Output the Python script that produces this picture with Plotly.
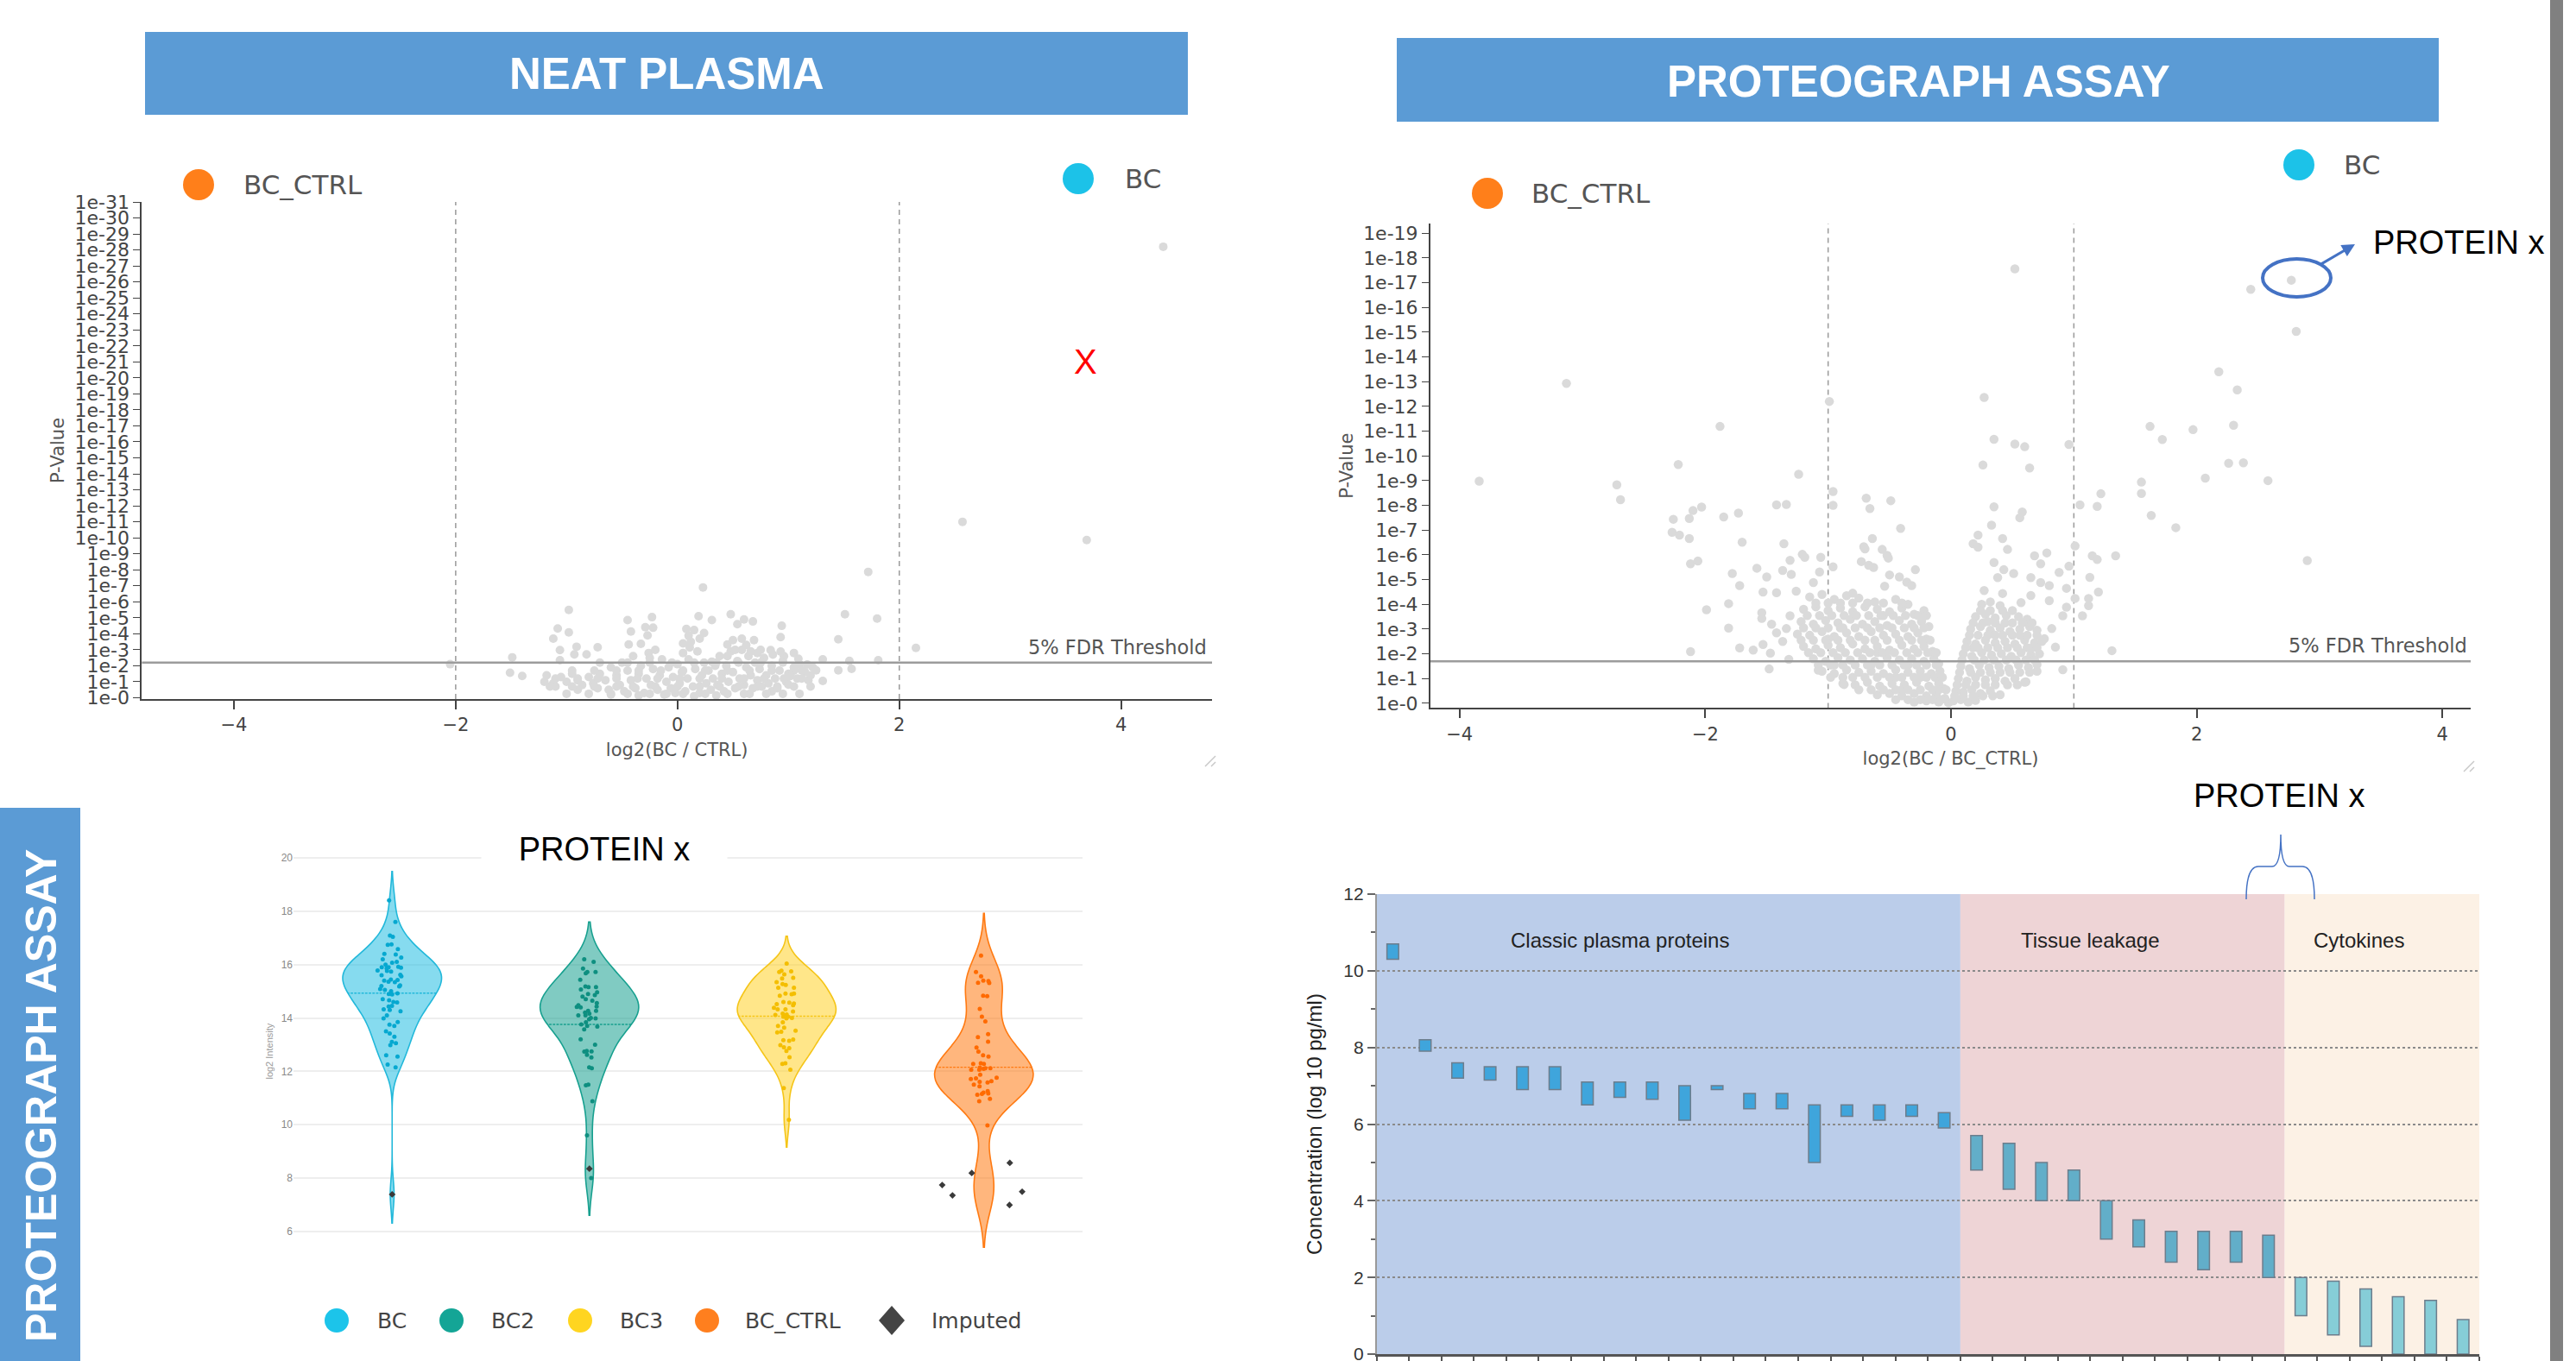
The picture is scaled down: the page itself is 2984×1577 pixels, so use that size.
import plotly.graph_objects as go

W, H = 2984, 1577

# ======================= DATA =======================
# --- NEAT PLASMA volcano: log2 fold change / -log10(p) ---
neat_fc_out = [4.38, 2.57, 3.69, 1.72, 0.23, -0.98, 1.51, 1.80, 2.15, 1.45,
               0.94, 0.93, 1.31, 1.55, 1.81, 1.45, 1.57, 1.31, -2.05, -1.49,
               -1.51, -1.40, -1.08, -1.12, -0.98, -1.06, -0.91, -0.93, -0.82, -0.72,
               -1.06, -0.45, -0.42, -0.23, -0.29, -0.22, -0.44, -0.33, 0.19, 0.31,
               0.10, 0.15, 0.24, 0.48, 0.54, 0.60, 0.68, 0.45, 0.50, 0.58,
               0.69, 0.11, 0.31, 0.72, 0.84, 0.93, 1.05, 1.09, 1.17, 1.25,
               1.12, 1.02, 1.00]
neat_nlp_out = [28.2, 11.0, 9.86, 7.87, 6.9, 5.49, 5.22, 4.95, 3.12, 3.66,
                4.5, 3.79, 2.4, 2.31, 2.35, 1.72, 1.81, 1.05, 2.1, 2.53,
                1.57, 1.36, 4.33, 3.7, 4.09, 2.98, 3.19, 2.71, 2.71, 3.16,
                2.35, 4.86, 4.14, 5.04, 4.41, 4.38, 3.33, 3.37, 5.1, 4.86,
                3.88, 4.23, 4.05, 5.22, 4.6, 4.9, 4.77, 3.33, 3.6, 3.7,
                3.6, 3.15, 2.26, 2.8, 2.98, 2.89, 2.8, 2.44, 2.08, 1.72,
                1.72, 1.36, 0.82]
neat_fc_core = [-1.20, -1.18, -1.12, -1.05, -1.00, -0.95, -0.90, -0.86, -0.80, -0.76,
                -0.72, -0.70, -0.65, -0.62, -0.60, -0.55, -0.52, -0.50, -0.48, -0.45,
                -0.42, -0.40, -0.38, -0.35, -0.33, -0.30, -0.28, -0.26, -0.24, -0.22,
                -0.20, -0.18, -0.16, -0.14, -0.12, -0.10, -0.08, -0.06, -0.04, -0.02,
                0.00, 0.02, 0.04, 0.05, 0.07, 0.09, 0.10, 0.12, 0.14, 0.16,
                0.18, 0.20, 0.22, 0.24, 0.26, 0.28, 0.30, 0.32, 0.34, 0.36,
                0.38, 0.40, 0.42, 0.44, 0.46, 0.48, 0.50, 0.52, 0.54, 0.56,
                0.58, 0.60, 0.62, 0.64, 0.66, 0.68, 0.70, 0.72, 0.74, 0.76,
                0.78, 0.80, 0.82, 0.85, 0.88, 0.90, 0.92, 0.95, 0.98, 1.00,
                1.05, 1.08, 1.10, 1.15, 1.18, 1.22, -0.90, -0.60, -0.35, 0.15,
                0.35, 0.60, 0.85, -1.10, 1.20, -0.27, -0.25, 0.05, 0.08, 0.20,
                0.45, 0.52, 0.62, 0.66, 0.75, 0.86, 0.96,
                -1.00, -0.80, -0.60, -0.45, -0.25, -0.10, 0.05, 0.25, 0.45, 0.65, 0.80, 0.95, 1.10,
                -1.15, -0.95, -0.75, -0.55, -0.40, -0.20, 0.00, 0.20, 0.38, 0.55, 0.72, 0.90, 1.05, 1.20,
                -1.10, -0.90, -0.72, -0.55, -0.36, -0.18, 0.02, 0.20, 0.40, 0.60, 0.78, 0.96, 1.12,
                -0.95, -0.75, -0.55, -0.35, -0.15, 0.05, 0.25, 0.45, 0.65, 0.85, 1.05,
                -0.70, -0.45, -0.25, -0.05, 0.15, 0.35, 0.55, 0.75, 0.95]
neat_nlp_core = [1.0, 1.4, 0.9, 1.3, 1.0, 1.5, 1.1, 0.8, 1.3, 0.9,
                 0.6, 1.5, 1.1, 0.5, 1.9, 1.4, 0.8, 2.2, 0.4, 1.7,
                 1.1, 2.6, 0.6, 1.5, 2.0, 0.3, 1.2, 2.8, 0.8, 1.8,
                 3.0, 0.5, 1.4, 2.4, 0.2, 1.0, 1.9, 0.6, 1.3, 0.3,
                 2.1, 0.9, 1.6, 2.8, 0.4, 1.2, 2.4, 3.5, 0.7, 1.8,
                 2.9, 0.3, 1.4, 2.2, 0.9, 1.7, 0.5, 1.2, 2.0, 0.8,
                 2.6, 1.5, 0.4, 2.0, 1.0, 2.9, 1.6, 0.6, 2.3, 1.2,
                 3.0, 0.8, 1.9, 2.6, 1.4, 0.6, 2.2, 1.1, 1.8, 0.7,
                 2.5, 1.4, 0.9, 2.0, 1.2, 0.6, 1.7, 2.3, 1.0, 1.5,
                 1.9, 1.2, 2.1, 1.6, 1.1, 1.9, 0.5, 0.2, 0.15, 0.1,
                 0.15, 0.25, 0.4, 0.7, 1.4, 3.9, 2.5, 3.4, 4.3, 3.7,
                 2.6, 3.0, 3.3, 2.9, 3.0, 2.7, 2.6,
                 0.25, 0.25, 0.25, 0.25, 0.25, 0.25, 0.25, 0.25, 0.25, 0.25, 0.25, 0.25, 0.25,
                 0.7, 0.7, 0.7, 0.7, 0.7, 0.7, 0.7, 0.7, 0.7, 0.7, 0.7, 0.7, 0.7, 0.7,
                 1.2, 1.2, 1.2, 1.2, 1.2, 1.2, 1.2, 1.2, 1.2, 1.2, 1.2, 1.2, 1.2,
                 1.7, 1.7, 1.7, 1.7, 1.7, 1.7, 1.7, 1.7, 1.7, 1.7, 1.7,
                 2.2, 2.2, 2.2, 2.2, 2.2, 2.2, 2.2, 2.2, 2.2]
neat_fdr = 2.2
neat_fc_cut = 2.0
neat_x_mark = (3.68, 21.0)

# --- PROTEOGRAPH volcano ---
pg_fc_out = [0.52, 2.44, 2.77, 2.81, 2.18, 2.33, -3.13, -0.99, 0.27, -3.84,
             2.30, 1.97, 1.72, 2.26, 2.38, 2.07, 2.58, 2.90, 1.83,
             -1.88, -2.22, -2.72, -2.69, -1.24, -0.96, -0.96, -1.42, -1.34, -2.03,
             -2.10, -2.13, -2.26, -2.27, -2.21, -2.13, -1.85, -1.73, -1.70, -2.12,
             -2.06, -1.36, -1.21, -1.19, -1.06, -1.31, -1.37, -1.30, -1.58, -1.50,
             -1.78, -1.72, -1.53, -1.42, -1.26, -1.12, -1.07, -0.96, -1.99, -1.81,
             -1.81, -2.12, -1.72, -1.61, -1.53, -1.47, -1.32, -1.48, -1.54, -1.54,
             -1.46, -1.42, -1.37, -1.34, -1.31, -1.08, -0.87, -0.70, -0.66, -0.69,
             -0.49, -0.41, -0.64, -0.71, -0.73, -0.67, -0.63, -0.56, -0.52, -0.51,
             -0.50, -0.42, -0.36, -0.29, -0.32, -0.54, -0.80, -0.23,
             0.35, 0.52, 0.60, 0.96, 0.26, 0.64, 0.35, 0.58, 0.56, 0.33,
             0.42, 0.46, 0.22, 0.18, 0.22, 0.35, 0.43, 0.38, 0.51, 0.27,
             0.42, 0.68, 0.78, 0.73, 0.65, 0.73, 0.80, 0.88, 0.96, 0.94,
             1.01, 1.05, 1.19, 1.22, 1.15, 1.19, 1.34, 1.13, 1.20, 1.12,
             1.01, 1.12, 1.07, 1.31, 0.91, 0.61, 0.57, 0.65, 0.80, 0.91,
             0.94, 0.82, 0.85, 0.76, 0.70, 1.55, 1.55, 1.63, 1.62]
pg_nlp_out = [17.56, 16.73, 17.1, 15.03, 13.4, 12.67, 12.93, 12.2, 12.36, 8.98,
              11.24, 11.06, 10.66, 9.7, 9.72, 9.1, 9.0, 5.77, 7.1,
              11.19, 9.65, 8.83, 8.23, 9.26, 8.56, 8.0, 8.02, 8.04, 7.93,
              7.79, 7.47, 7.44, 6.91, 6.8, 6.66, 7.53, 7.69, 6.51, 5.64,
              5.75, 6.45, 6.02, 5.9, 5.9, 5.78, 5.37, 5.21, 5.46, 5.11,
              5.25, 4.76, 4.5, 4.47, 4.53, 4.88, 5.31, 5.52, 3.78, 4.03,
              3.04, 2.09, 2.24, 2.15, 2.38, 2.03, 1.78, 1.39, 3.66, 3.43,
              3.2, 2.85, 2.5, 3.02, 3.54, 1.34, 0.76, 6.24, 7.87, 8.29,
              8.19, 7.07, 6.66, 6.33, 5.73, 5.58, 5.49, 6.22, 5.98, 5.87,
              5.19, 5.11, 4.9, 5.4, 4.76, 4.73, 4.45, 3.49,
              10.67, 10.48, 10.37, 10.46, 9.63, 9.51, 7.94, 7.73, 7.5, 7.2,
              6.66, 6.22, 6.8, 6.45, 6.31, 5.69, 5.4, 5.08, 5.25, 4.56,
              4.44, 5.96, 6.08, 5.64, 5.08, 4.88, 4.76, 5.29, 5.54, 4.65,
              6.36, 8.02, 7.96, 8.47, 5.96, 5.81, 5.96, 5.09, 4.5, 4.24,
              4.24, 3.95, 3.54, 2.13, 1.36, 0.87, 4.07, 4.36, 4.15, 3.54,
              3.89, 3.02, 2.27, 2.61, 1.57, 8.94, 8.48, 7.59, 11.19]
pg_fc_core = [-1.15, -1.05, -0.95, -0.85, -0.75, -0.62, -0.45, -0.35,
              -1.20, -1.10, -1.00, -0.90, -0.80, -0.70, -0.60, -0.50, -0.40, -0.30, -0.22,
              -1.22, -1.12, -1.02, -0.92, -0.82, -0.72, -0.62, -0.52, -0.42, -0.32, -0.24, -0.18,
              -1.25, -1.15, -1.05, -0.95, -0.85, -0.75, -0.65, -0.55, -0.45, -0.35, -0.27, -0.20,
              -1.20, -1.10, -1.00, -0.90, -0.80, -0.70, -0.60, -0.50, -0.40, -0.30, -0.22, -0.15,
              -1.12, -1.02, -0.92, -0.82, -0.72, -0.62, -0.52, -0.42, -0.32, -0.22, -0.14, -0.10,
              -1.05, -0.95, -0.85, -0.75, -0.65, -0.55, -0.45, -0.35, -0.25, -0.16, -0.09,
              -0.88, -0.78, -0.68, -0.58, -0.48, -0.38, -0.28, -0.18, -0.10, -0.06,
              -0.60, -0.50, -0.40, -0.30, -0.20, -0.12, -0.05,
              -0.30, -0.20, -0.10, -0.02,
              -1.00, -0.90, -0.70, -0.55, -0.78, -0.60, -0.35, -0.65, -0.95, -0.45, -0.25, -0.80, -0.40, -0.15,
              -1.10, -1.00, -0.90, -0.80, -0.68, -0.55, -0.40,
              -1.17, -1.07, -0.97, -0.87, -0.77, -0.67, -0.57, -0.47, -0.37, -0.27, -0.20,
              -1.20, -1.10, -1.00, -0.88, -0.68, -0.58, -0.48, -0.38, -0.30, -0.22,
              -1.22, -1.12, -1.02, -0.92, -0.82, -0.62, -0.52, -0.42, -0.32, -0.24, -0.17,
              -1.16, -1.06, -0.96, -0.86, -0.76, -0.66, -0.56, -0.46, -0.36, -0.27, -0.19, -0.12,
              -1.08, -0.98, -0.88, -0.78, -0.68, -0.58, -0.48, -0.38, -0.28, -0.20, -0.12,
              -0.98, -0.88, -0.70, -0.60, -0.50, -0.40, -0.30, -0.20, -0.13, -0.07,
              -0.75, -0.65, -0.55, -0.45, -0.35, -0.25, -0.10, -0.04,
              -0.45, -0.35, -0.25, -0.15, -0.08,
              0.25, 0.32, 0.40,
              0.20, 0.28, 0.36, 0.45, 0.55, 0.62,
              0.16, 0.24, 0.32, 0.40, 0.48, 0.56, 0.64, 0.70,
              0.13, 0.20, 0.28, 0.36, 0.44, 0.52, 0.60, 0.68, 0.74,
              0.10, 0.17, 0.25, 0.33, 0.41, 0.49, 0.57, 0.65, 0.72,
              0.08, 0.15, 0.23, 0.31, 0.39, 0.47, 0.55, 0.63, 0.70,
              0.06, 0.13, 0.20, 0.28, 0.36, 0.44, 0.52, 0.60,
              0.04, 0.10, 0.17, 0.24, 0.32, 0.40,
              0.02, 0.08, 0.14, 0.20,
              0.30, 0.50, 0.22, 0.42, 0.62, 0.18, 0.46, 0.66,
              0.24, 0.32, 0.42, 0.50,
              0.18, 0.26, 0.36, 0.44, 0.58, 0.66,
              0.15, 0.30, 0.36, 0.50, 0.56, 0.70,
              0.12, 0.22, 0.30, 0.38, 0.54, 0.62, 0.70,
              0.09, 0.19, 0.27, 0.35, 0.45, 0.53, 0.61, 0.68,
              0.07, 0.16, 0.24, 0.32, 0.40, 0.48, 0.56, 0.64,
              0.05, 0.12, 0.20, 0.28, 0.36, 0.46, 0.54,
              0.03, 0.10, 0.18, 0.26, 0.34]
pg_nlp_core = [4.30, 4.40, 4.20, 4.35, 4.25, 4.10, 4.20, 4.00,
               3.80, 3.90, 3.75, 3.85, 3.70, 3.90, 3.80, 3.70, 3.85, 3.60, 3.75,
               3.30, 3.20, 3.35, 3.25, 3.40, 3.20, 3.30, 3.15, 3.35, 3.20, 3.30, 3.10,
               2.80, 2.75, 2.90, 2.70, 2.85, 2.70, 2.90, 2.75, 2.80, 2.70, 2.85, 2.60,
               2.30, 2.20, 2.35, 2.25, 2.40, 2.20, 2.30, 2.15, 2.35, 2.20, 2.30, 2.10,
               1.80, 1.70, 1.85, 1.75, 1.80, 1.70, 1.85, 1.75, 1.80, 1.70, 1.80, 1.60,
               1.30, 1.20, 1.35, 1.25, 1.30, 1.20, 1.35, 1.25, 1.30, 1.20, 1.30,
               0.80, 0.75, 0.85, 0.70, 0.80, 0.75, 0.85, 0.70, 0.80, 0.60,
               0.35, 0.40, 0.30, 0.40, 0.30, 0.35, 0.20,
               0.05, 0.10, 0.05, 0.02,
               2.60, 3.05, 2.55, 3.55, 3.05, 2.05, 1.55, 1.55, 1.55, 1.05, 1.05, 1.05, 0.55, 0.55,
               4.05, 4.05, 4.05, 4.05, 4.05, 4.05, 4.05,
               3.55, 3.55, 3.55, 3.55, 3.55, 3.55, 3.55, 3.55, 3.55, 3.55, 3.55,
               3.05, 3.05, 3.05, 3.05, 3.05, 3.05, 3.05, 3.05, 3.05, 3.05,
               2.55, 2.55, 2.55, 2.55, 2.55, 2.55, 2.55, 2.55, 2.55, 2.55, 2.55,
               2.05, 2.05, 2.05, 2.05, 2.05, 2.05, 2.05, 2.05, 2.05, 2.05, 2.05, 2.05,
               1.55, 1.55, 1.55, 1.55, 1.55, 1.55, 1.55, 1.55, 1.55, 1.55, 1.55,
               1.05, 1.05, 1.05, 1.05, 1.05, 1.05, 1.05, 1.05, 1.05, 1.05,
               0.55, 0.55, 0.55, 0.55, 0.55, 0.55, 0.55, 0.55,
               0.15, 0.15, 0.15, 0.15, 0.15,
               4.00, 4.10, 3.95,
               3.50, 3.60, 3.45, 3.55, 3.50, 3.40,
               3.00, 3.10, 2.95, 3.05, 2.90, 3.00, 3.10, 2.95,
               2.50, 2.40, 2.55, 2.45, 2.50, 2.40, 2.55, 2.45, 2.50,
               2.00, 1.90, 2.05, 1.95, 2.00, 1.90, 2.05, 1.95, 2.00,
               1.50, 1.40, 1.55, 1.45, 1.50, 1.40, 1.55, 1.45, 1.30,
               1.00, 0.90, 1.05, 0.95, 1.00, 0.90, 1.00, 0.85,
               0.50, 0.45, 0.55, 0.40, 0.50, 0.35,
               0.10, 0.15, 0.05, 0.12,
               3.30, 3.25, 2.75, 2.75, 2.75, 2.25, 2.25, 2.25,
               3.75, 3.75, 3.75, 3.75,
               3.25, 3.25, 3.25, 3.25, 3.25, 3.25,
               2.75, 2.75, 2.75, 2.75, 2.75, 2.75,
               2.25, 2.25, 2.25, 2.25, 2.25, 2.25, 2.25,
               1.75, 1.75, 1.75, 1.75, 1.75, 1.75, 1.75, 1.75,
               1.25, 1.25, 1.25, 1.25, 1.25, 1.25, 1.25, 1.25,
               0.75, 0.75, 0.75, 0.75, 0.75, 0.75, 0.75,
               0.30, 0.30, 0.30, 0.30, 0.30]
pg_fdr = 1.7
pg_fc_cut = 1.0

assert len(neat_fc_out) == len(neat_nlp_out)
assert len(neat_fc_core) == len(neat_nlp_core)
assert len(pg_fc_out) == len(pg_nlp_out)
assert len(pg_fc_core) == len(pg_nlp_core)

# --- PROTEIN x violins (log2 intensity) ---
groups = ['BC', 'BC2', 'BC3', 'BC_CTRL']
bc_vals = [18.41, 17.6, 17.09, 17.04, 16.76, 16.74, 16.58, 16.4, 16.38, 16.26,
           16.2, 16.1, 16.07, 16.0, 15.9, 15.9, 15.92, 15.88, 15.86, 15.76,
           15.74, 15.78, 15.6, 15.62, 15.56, 15.4, 15.42, 15.44, 15.36, 15.34,
           15.2, 15.22, 15.18, 15.05, 15.0, 15.08, 14.9, 14.88, 14.92, 14.7,
           14.66, 14.6, 14.58, 14.45, 14.43, 14.3, 14.25, 14.32, 14.1, 13.98,
           13.85, 13.75, 13.7, 13.5, 13.42, 13.3, 13.1, 13.05, 12.98, 12.6,
           12.55, 12.25, 12.15]
bc2_vals = [16.2, 16.1, 15.85, 15.72, 15.72, 15.67, 15.43, 15.18, 15.16, 15.16,
            15.07, 14.96, 14.9, 14.86, 14.8, 14.7, 14.65, 14.56, 14.48, 14.43,
            14.41, 14.4, 14.27, 14.27, 14.2, 14.16, 14.1, 14.1, 14.0, 13.98,
            13.95, 13.84, 13.76, 13.7, 13.68, 13.57, 13.2, 13.0, 12.76, 12.75,
            12.74, 12.62, 12.52, 12.15, 12.12, 11.5, 11.48, 10.88, 9.6, 8.0]
bc3_vals = [16.04, 15.77, 15.75, 15.72, 15.63, 15.5, 15.48, 15.34, 15.27, 15.24,
            15.13, 15.13, 14.91, 14.91, 14.89, 14.83, 14.6, 14.57, 14.54, 14.52,
            14.48, 14.38, 14.32, 14.32, 14.24, 14.16, 14.13, 14.11, 14.05, 14.05,
            14.0, 13.98, 13.84, 13.7, 13.64, 13.52, 13.48, 13.46, 13.19, 13.17,
            13.14, 12.98, 12.9, 12.87, 12.76, 12.53, 12.3, 12.28, 12.06, 11.37,
            10.18]
ctrl_vals = [16.34, 15.72, 15.56, 15.4, 15.38, 15.32, 15.31, 14.83, 14.82, 14.34,
             14.05, 13.87, 13.39, 13.28, 13.11, 12.89, 12.74, 12.6, 12.55, 12.3,
             12.28, 12.28, 12.14, 12.12, 12.12, 12.09, 12.06, 12.06, 11.87, 11.76,
             11.74, 11.71, 11.63, 11.61, 11.58, 11.5, 11.44, 11.26, 11.2, 11.17,
             11.15, 11.12, 10.97, 10.88, 9.97]
bc_imputed = [7.39]
bc2_imputed = [8.35]
bc3_imputed = []
ctrl_imputed = [8.57, 8.19, 7.74, 7.49, 7.35, 6.99]
violin_ticks = [6, 8, 10, 12, 14, 16, 18, 20]

# --- Plasma protein concentration ranges (log10 pg/ml) ---
bar_low = [10.3, 7.9, 7.2, 7.15, 6.9, 6.9, 6.5, 6.7, 6.65, 6.1,
           6.9, 6.4, 6.4, 5.0, 6.2, 6.1, 6.2, 5.9,
           4.8, 4.3, 4.0, 4.0, 3.0, 2.8, 2.4, 2.2, 2.4, 2.0,
           1.0, 0.5, 0.2, 0.0, 0.0, 0.0]
bar_high = [10.7, 8.2, 7.6, 7.5, 7.5, 7.5, 7.1, 7.1, 7.1, 7.0,
            7.0, 6.8, 6.8, 6.5, 6.5, 6.5, 6.5, 6.3,
            5.7, 5.5, 5.0, 4.8, 4.0, 3.5, 3.2, 3.2, 3.2, 3.1,
            2.0, 1.9, 1.7, 1.5, 1.4, 0.9]
region_names = ['Classic plasma proteins', 'Tissue leakage', 'Cytokines']
region_counts = [18, 10, 6]
conc_ticks = [0, 2, 4, 6, 8, 10, 12]

# ======================= STYLE =======================
def fx(px):
    return px / W


def fy(py):
    return 1 - py / H


SANS = 'Liberation Sans, Arial, sans-serif'
DEJ = 'DejaVu Sans, Verdana, sans-serif'
BANNER = '#5B9BD5'
PT_GRAY = '#dadada'
ORANGE = '#FF7F1A'
CYAN = '#1CC2E8'

vio_style = {
    'BC': dict(line='#22B8DA', fill='rgba(34,190,225,0.55)', pt='#06A8D0', bw=0.54, leg='#1CC4EA'),
    'BC2': dict(line='#17A08F', fill='rgba(23,160,143,0.55)', pt='#0E8F80', bw=0.70, leg='#14A596'),
    'BC3': dict(line='#F5C518', fill='rgba(255,210,40,0.55)', pt='#F4BE00', bw=0.51, leg='#FFD520'),
    'BC_CTRL': dict(line='#FF7A12', fill='rgba(255,122,18,0.55)', pt='#FF6A00', bw=0.79, leg='#FF7F1E'),
}
vals_by_group = {'BC': bc_vals, 'BC2': bc2_vals, 'BC3': bc3_vals, 'BC_CTRL': ctrl_vals}
imp_by_group = {'BC': bc_imputed, 'BC2': bc2_imputed, 'BC3': bc3_imputed, 'BC_CTRL': ctrl_imputed}

fig = go.Figure()

# ---- volcano traces ----
fig.add_trace(go.Scatter(x=neat_fc_core + neat_fc_out, y=neat_nlp_core + neat_nlp_out,
                         mode='markers', marker=dict(size=10, color=PT_GRAY),
                         xaxis='x', yaxis='y', hoverinfo='skip', showlegend=False))
fig.add_trace(go.Scatter(x=pg_fc_core + pg_fc_out, y=pg_nlp_core + pg_nlp_out,
                         mode='markers', marker=dict(size=10.5, color=PT_GRAY),
                         xaxis='x2', yaxis='y2', hoverinfo='skip', showlegend=False))

# ---- violins ----
for g in groups:
    s = vio_style[g]
    allv = vals_by_group[g] + imp_by_group[g]
    fig.add_trace(go.Violin(x=[g] * len(allv), y=allv, xaxis='x3', yaxis='y3', name=g,
                            line=dict(color=s['line'], width=1.6), fillcolor=s['fill'],
                            points=False, meanline=dict(visible=True, color=s['line'], width=1.4),
                            bandwidth=s['bw'], width=0.5, scalemode='width', spanmode='soft',
                            showlegend=False, hoverinfo='skip'))
for g in groups:
    s = vio_style[g]
    v = vals_by_group[g]
    fig.add_trace(go.Violin(x=[g] * len(v), y=v, xaxis='x3', yaxis='y3', name=g + ' pts',
                            line=dict(color='rgba(0,0,0,0)', width=0), fillcolor='rgba(0,0,0,0)',
                            points='all', pointpos=0, jitter=0.3,
                            marker=dict(size=5, color=s['pt']), width=0.5,
                            bandwidth=s['bw'], showlegend=False, hoverinfo='skip'))
for g in groups:
    iv = imp_by_group[g]
    if not iv:
        continue
    fig.add_trace(go.Violin(x=[g] * len(iv), y=iv, xaxis='x3', yaxis='y3', name='Imputed',
                            line=dict(color='rgba(0,0,0,0)', width=0), fillcolor='rgba(0,0,0,0)',
                            points='all', pointpos=0, jitter=(1.0 if len(iv) > 1 else 0), bandwidth=0.5,
                            marker=dict(size=6, color='#3a3a3a', symbol='diamond'), width=0.5,
                            showlegend=False, hoverinfo='skip'))

# ---- concentration ranges ----
n_bars = len(bar_low)
bar_pos = list(range(n_bars))
region_bar_colors = ['#3FA5DC', '#62AEC9', '#86CDD7']
bar_colors = []
for c, cnt in zip(region_bar_colors, region_counts):
    bar_colors += [c] * cnt
fig.add_trace(go.Bar(x=bar_pos, y=[h - l for h, l in zip(bar_high, bar_low)], base=bar_low,
                     width=0.36, marker=dict(color=bar_colors, line=dict(color='#6d7d8c', width=1.5)),
                     xaxis='x4', yaxis='y4', showlegend=False, hoverinfo='skip'))

# ======================= SHAPES =======================
shapes = []
shapes.append(dict(type='rect', xref='paper', yref='paper', x0=fx(168), x1=fx(1376), y0=fy(133), y1=fy(37),
                   fillcolor=BANNER, line=dict(width=0)))
shapes.append(dict(type='rect', xref='paper', yref='paper', x0=fx(1618), x1=fx(2825), y0=fy(141), y1=fy(44),
                   fillcolor=BANNER, line=dict(width=0)))
shapes.append(dict(type='rect', xref='paper', yref='paper', x0=0, x1=fx(93), y0=0, y1=fy(936),
                   fillcolor=BANNER, line=dict(width=0)))
shapes.append(dict(type='rect', xref='paper', yref='paper', x0=fx(2954), x1=fx(2969), y0=0, y1=1,
                   fillcolor='#808080', line=dict(width=0)))
for xr, yr, cut, fdr in [('x', 'y', neat_fc_cut, neat_fdr), ('x2', 'y2', pg_fc_cut, pg_fdr)]:
    for sgn in (-1, 1):
        shapes.append(dict(type='line', xref=xr, yref=yr + ' domain', x0=sgn * cut, x1=sgn * cut, y0=0, y1=1,
                           line=dict(color='#9a9a9a', width=1.5, dash='6px,5px'), layer='below'))
    shapes.append(dict(type='line', xref=xr + ' domain', yref=yr, x0=0, x1=1, y0=fdr, y1=fdr,
                       line=dict(color='#9c9c9c', width=2.5)))
for cx, cy in [(1408, 880), (2866, 886)]:
    shapes.append(dict(type='line', xref='paper', yref='paper', x0=fx(cx - 12), y0=fy(cy + 8), x1=fx(cx), y1=fy(cy - 4),
                       line=dict(color='#c8c8c8', width=1.5)))
    shapes.append(dict(type='line', xref='paper', yref='paper', x0=fx(cx - 5), y0=fy(cy + 8), x1=fx(cx), y1=fy(cy + 3),
                       line=dict(color='#c8c8c8', width=1.5)))
for cx, cy, col in [(230, 214, ORANGE), (1249, 207, CYAN), (1723, 224, ORANGE), (2663, 191, CYAN)]:
    shapes.append(dict(type='circle', xref='paper', yref='paper', xsizemode='pixel', ysizemode='pixel',
                       xanchor=fx(cx), yanchor=fy(cy), x0=-18, x1=18, y0=-18, y1=18,
                       fillcolor=col, line=dict(width=0)))
for cx, g in zip([390, 523, 672, 819], groups):
    shapes.append(dict(type='circle', xref='paper', yref='paper', xsizemode='pixel', ysizemode='pixel',
                       xanchor=fx(cx), yanchor=fy(1530), x0=-14, x1=14, y0=-14, y1=14,
                       fillcolor=vio_style[g]['leg'], line=dict(width=0)))
dx, dy = 1033, 1530
shapes.append(dict(type='path', xref='paper', yref='paper',
                   path='M {} {} L {} {} L {} {} L {} {} Z'.format(fx(dx), fy(dy - 17), fx(dx + 15), fy(dy),
                                                                 fx(dx), fy(dy + 17), fx(dx - 15), fy(dy)),
                   fillcolor='#444444', line=dict(width=0)))
shapes.append(dict(type='circle', xref='paper', yref='paper', x0=fx(2621), x1=fx(2700), y0=fy(344), y1=fy(300),
                   line=dict(color='#4472C4', width=4)))
start = -0.5
for col, cnt in zip(['#BBCDEA', '#EED4D6', '#FCF1E5'], region_counts):
    shapes.append(dict(type='rect', xref='x4', yref='y4', x0=start, x1=start + cnt, y0=0, y1=max(conc_ticks),
                       fillcolor=col, line=dict(width=0), layer='below'))
    start += cnt
bx0, bxm, bx1, by_top, by_mid, by_bot = 2602, 2642, 2681, 967, 1004, 1042
brace = ('M {a} {b} Q {a} {c} {d} {c} L {e} {c} Q {m} {c} {m} {t} Q {m} {c} {f} {c} L {g} {c} Q {h} {c} {h} {b}'
         .format(a=fx(bx0), b=fy(by_bot), c=fy(by_mid), d=fx(bx0 + 14), e=fx(bxm - 10), m=fx(bxm), t=fy(by_top),
                 f=fx(bxm + 10), g=fx(bx1 - 14), h=fx(bx1)))
shapes.append(dict(type='path', xref='paper', yref='paper', path=brace, line=dict(color='#4472C4', width=1.5)))


# ======================= ANNOTATIONS =======================
def ann(text, x, y, size, color='#000', family=SANS, xanchor='center', yanchor='middle', **kw):
    return dict(text=text, x=fx(x), y=fy(y), xref='paper', yref='paper', showarrow=False,
                font=dict(size=size, color=color, family=family), xanchor=xanchor, yanchor=yanchor, **kw)


annotations = [
    ann('<b>NEAT PLASMA</b>', 772, 86, 51, 'white'),
    ann('<b>PROTEOGRAPH ASSAY</b>', 2222, 94, 51, 'white'),
    ann('<b>PROTEOGRAPH ASSAY</b>', 48, 1270, 50, 'white', textangle=-90),
    ann('BC_CTRL', 280, 214, 31, '#555', DEJ, xanchor='left'),
    ann('BC', 1301, 207, 31, '#555', DEJ, xanchor='left'),
    ann('BC_CTRL', 1772, 224, 31, '#555', DEJ, xanchor='left'),
    ann('BC', 2713, 191, 31, '#555', DEJ, xanchor='left'),
    ann('PROTEIN x', 2848, 281, 38, '#000'),
    ann('PROTEIN x', 700, 984, 38, '#000', bgcolor='white', width=282),
    ann('PROTEIN x', 2640, 922, 38, '#000'),
    dict(text='X', x=neat_x_mark[0], y=neat_x_mark[1], xref='x', yref='y', showarrow=False,
         font=dict(size=40, color='#FF0000', family=SANS)),
    dict(text='5% FDR Threshold', x=1, y=neat_fdr, xref='x domain', yref='y', xanchor='right', yanchor='bottom',
         xshift=-4, yshift=3, showarrow=False, font=dict(size=22.5, color='#555', family=DEJ)),
    dict(text='5% FDR Threshold', x=1, y=pg_fdr, xref='x2 domain', yref='y2', xanchor='right', yanchor='bottom',
         xshift=-2, yshift=3, showarrow=False, font=dict(size=22.5, color='#555', family=DEJ)),
    dict(text='', x=fx(2728), y=fy(283), xref='paper', yref='paper', showarrow=True, ax=-41, ay=24,
         arrowhead=2, arrowsize=1, arrowwidth=3, arrowcolor='#4472C4'),
]
for tx, g in zip([435, 567, 716, 861], groups):
    annotations.append(ann(g, tx, 1530, 25, '#444', DEJ, xanchor='left'))
annotations.append(ann('Imputed', 1077, 1530, 25, '#444', DEJ, xanchor='left'))
start = -0.5
for name, cnt, off in zip(region_names, region_counts, [7.5, 4.0, 2.3]):
    annotations.append(dict(text=name, x=start + off, y=10.8, xref='x4', yref='y4', showarrow=False,
                            font=dict(size=24, color='#222', family=SANS)))
    start += cnt

# ======================= LAYOUT =======================
tickfont_v = dict(family=DEJ, size=22, color='#444')
common_vx = dict(showline=True, linecolor='#444', linewidth=2, ticks='outside', ticklen=10, tickwidth=1.5,
                 tickcolor='#444', showgrid=False, zeroline=False, tickfont=dict(family=DEJ, size=21, color='#444'),
                 tickvals=[-4, -2, 0, 2, 4], automargin=False)
neat_yt = list(range(0, 32))
pg_yt = list(range(0, 20))
ttl = dict(family=DEJ, size=21, color='#555')

fig.update_layout(
    width=W, height=H, margin=dict(l=0, r=0, t=0, b=0, autoexpand=False), autosize=False,
    paper_bgcolor='white', plot_bgcolor='white', showlegend=False, violinmode='overlay',
    xaxis=dict(domain=[fx(164.3), fx(1404)], range=[-4.83, 4.82], anchor='y',
               title=dict(text='log2(BC / CTRL)', font=ttl, standoff=10), **common_vx),
    yaxis=dict(domain=[fy(810), fy(234)], range=[-0.08, 31.0], anchor='x',
               tickvals=neat_yt, ticktext=['1e-%d' % v for v in neat_yt],
               showline=True, linecolor='#444', linewidth=2, ticks='outside', ticklen=8, tickcolor='#444',
               showgrid=False, zeroline=False, tickfont=tickfont_v, automargin=False,
               title=dict(text='P-Value', font=ttl, standoff=6)),
    xaxis2=dict(domain=[fx(1657), fx(2862)], range=[-4.237, 4.23], anchor='y2',
                title=dict(text='log2(BC / BC_CTRL)', font=ttl, standoff=10), **common_vx),
    yaxis2=dict(domain=[fy(820.4), fy(259)], range=[-0.19, 19.39], anchor='x2',
                tickvals=pg_yt, ticktext=['1e-%d' % v for v in pg_yt],
                showline=True, linecolor='#444', linewidth=2, ticks='outside', ticklen=8, tickcolor='#444',
                showgrid=False, zeroline=False, tickfont=tickfont_v, automargin=False,
                title=dict(text='P-Value', font=ttl, standoff=6)),
    xaxis3=dict(domain=[fx(340), fx(1254)], anchor='y3', type='category', categoryorder='array',
                categoryarray=groups, range=[-0.5, 3.5], showticklabels=False, showline=False,
                showgrid=False, zeroline=False, ticks='', automargin=False),
    yaxis3=dict(domain=[fy(1451.6), fy(984.7)], range=[5.2, 20.3], anchor='x3', tickvals=violin_ticks,
                showgrid=True, gridcolor='#eeeeee', gridwidth=1.5, zeroline=False, showline=False, ticks='',
                tickfont=dict(family=SANS, size=12, color='#888'), automargin=False,
                title=dict(text='log2 Intensity', font=dict(family=SANS, size=11, color='#999'), standoff=6)),
    xaxis4=dict(domain=[fx(1594.6), fx(2872)], range=[-0.5, n_bars - 0.5], anchor='y4',
                tickvals=[i - 0.5 for i in range(n_bars + 1)], ticks='outside', ticklen=9, tickwidth=1.5,
                tickcolor='#555', showticklabels=False, showline=True, linecolor='#555', linewidth=3,
                showgrid=False, zeroline=False, automargin=False),
    yaxis4=dict(domain=[fy(1569), fy(1036)], range=[0, 12], anchor='x4', tickvals=conc_ticks,
                ticks='outside', ticklen=9, tickwidth=1.5, tickcolor='#666',
                minor=dict(tickvals=[1, 3, 5, 7, 9, 11], ticks='outside', ticklen=5, tickcolor='#666',
                           showgrid=False),
                showgrid=True, gridcolor='#8a8a8a', griddash='dot', gridwidth=1.5,
                showline=True, linecolor='#999', linewidth=1.5, zeroline=False, automargin=False,
                ticklabeloverflow='allow',
                tickfont=dict(family=SANS, size=21, color='#333'),
                title=dict(text='Concentration (log 10 pg/ml)', font=dict(family=SANS, size=24, color='#222'),
                           standoff=18)),
    shapes=shapes,
    annotations=annotations,
)

page_fix = ("var de=document.documentElement,bd=document.body;"
            "de.style.margin='0';de.style.padding='0';de.style.overflow='hidden';"
            "bd.style.margin='0';bd.style.padding='0';bd.style.overflow='hidden';"
            "var gd=document.getElementById('{plot_id}');gd.style.position='absolute';"
            "gd.style.left='0px';gd.style.top='0px';")
fig.write_html('out.html', post_script=page_fix, config={'displayModeBar': False})
